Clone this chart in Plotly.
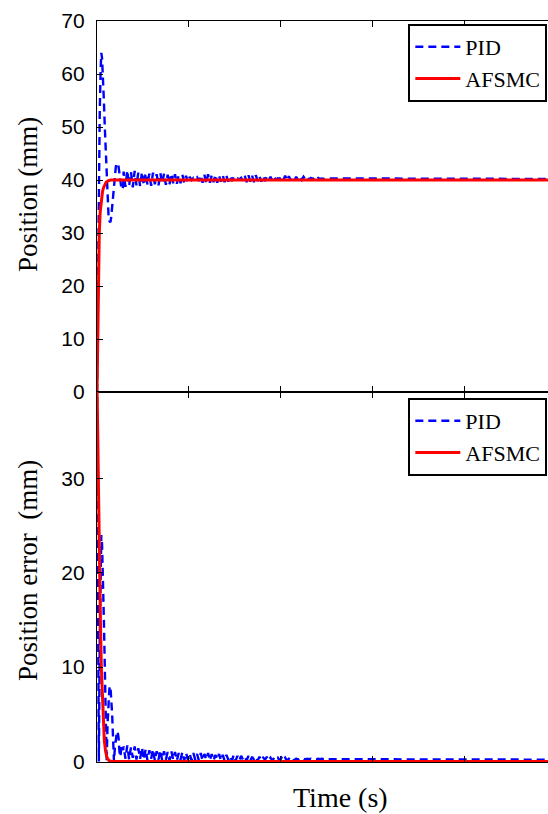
import numpy as np
import plotly.graph_objects as go
from plotly.subplots import make_subplots

# ---------------- data ----------------
# PID transient (time in s, position in mm)
pid_t_tr = [0, 0.005, 0.01, 0.015, 0.02, 0.03, 0.04, 0.047, 0.055, 0.065, 0.075, 0.085,
            0.095, 0.105, 0.115, 0.125, 0.135, 0.146, 0.155, 0.165, 0.175, 0.185, 0.195,
            0.205, 0.215, 0.224, 0.235, 0.245, 0.255, 0.265, 0.275, 0.285]
pid_pos_tr = [0, 12, 22, 31, 40, 53, 61, 64, 63, 60, 55, 50, 45, 40, 36, 33.5, 32.3, 32,
              33, 35, 37.5, 40, 41.5, 42.5, 43, 43.2, 42.5, 41, 39.5, 38.5, 38.2, 38.8]
pid_err_tr = [40, 28, 18, 9, 0, 13, 21, 24, 23, 20, 15, 10, 5, 0, 4, 6.5, 7.7, 8, 7, 5,
              2.5, 0, 1.5, 2.5, 3, 3.2, 2.5, 1, 0.5, 1.5, 1.8, 1.2]

# PID oscillating part, sampled every 0.02 s from 0.29 s
osc_t0, osc_dt = 0.29, 0.02
pid_pos_osc = [
    41.6, 38.7, 41.8, 38.9, 41.5, 38.6, 41.7, 39.0, 41.4, 38.8, 41.5,
    39.0, 41.3, 39.1, 41.2, 38.9, 41.4, 39.2, 41.1, 39.0, 41.3, 39.3, 41.2, 39.1, 41.0,
    39.2, 41.2, 39.4, 41.1, 39.3, 40.9, 39.4, 41.0, 39.5, 40.8, 39.6,
    40.6, 40.0, 40.4, 40.1, 40.5, 39.8, 40.9, 39.5, 41.0, 39.4, 41.1, 39.5, 40.9, 39.6,
    41.0, 39.5, 40.8, 39.7, 40.9, 39.6, 40.8, 39.7, 40.7, 39.8, 40.6,
    40.2, 40.3, 40.1, 40.4, 39.9, 40.8, 39.6, 40.9, 39.7, 40.8, 39.6, 40.9, 39.8, 40.7,
    39.7, 40.8, 39.8, 40.7, 39.9, 40.6, 39.9, 40.5, 40.1, 40.3, 40.2,
    40.7, 40.0, 40.8, 39.9, 40.7, 40.0, 40.6, 39.9, 40.6, 40.0, 40.5, 40.0, 40.6, 40.1,
    40.5, 40.1, 40.4, 40.2, 40.5, 40.1, 40.4, 40.2, 40.3, 40.2, 40.3, 40.3, 40.2, 40.3,
    40.2, 40.3]
pid_err_osc = [
    1.6, 0.3, 1.7, 0.2, 1.5, 0.4, 1.6, 0.2, 1.4, 0.3, 1.5,
    0.2, 1.3, 0.1, 1.2, 0.3, 1.3, 0.1, 1.1, 0.2, 1.2, 0.1, 1.1, 0.2, 1.0,
    0.1, 1.1, 0.2, 1.0, 0.1, 0.9, 0.2, 1.0, 0.1, 0.9, 0.2,
    0.8, 0.1, 0.9, 0.2, 0.8, 0.1, 0.9, 0.1, 0.8, 0.2, 0.9, 0.1, 0.8, 0.1,
    0.7, 0.2, 0.8, 0.1, 0.7, 0.1, 0.7, 0.2, 0.6, 0.1, 0.7,
    0.1, 0.6, 0.1, 0.6, 0.2, 0.5, 0.1, 0.6, 0.1, 0.5, 0.2, 0.5, 0.1, 0.5,
    0.1, 0.4, 0.2, 0.5, 0.1, 0.4, 0.1, 0.4, 0.2, 0.4, 0.1,
    0.4, 0.1, 0.4, 0.1, 0.3, 0.2, 0.4, 0.1, 0.3, 0.2, 0.3, 0.2, 0.3, 0.2,
    0.3, 0.25, 0.3, 0.25, 0.3, 0.25, 0.3, 0.25, 0.3, 0.25, 0.3, 0.25, 0.25, 0.25,
    0.25, 0.25]

# PID tail
pid_t_tail = [2.7, 2.9, 3.1, 3.3, 3.5, 3.7, 3.9, 4.1, 4.3, 4.5, 4.7, 4.95]
pid_pos_tail = [40.2, 40.3, 40.2, 40.3, 40.2, 40.25, 40.2, 40.25, 40.2, 40.2, 40.2, 40.2]
pid_err_tail = [0.2, 0.25, 0.2, 0.25, 0.2, 0.2, 0.25, 0.2, 0.2, 0.2, 0.2, 0.2]

# AFSMC
afsmc_t_pos = [0, 0.007, 0.014, 0.02, 0.025, 0.035, 0.047, 0.06, 0.07, 0.085, 0.1, 0.12, 0.15, 4.95]
afsmc_pos = [0, 10, 20, 26, 30, 34, 36.5, 37.8, 38.5, 39.2, 39.6, 39.85, 40, 40]
afsmc_t_err = [0, 0.01, 0.02, 0.028, 0.037, 0.047, 0.06, 0.07, 0.08, 0.095, 0.11, 0.13, 0.16, 4.95]
afsmc_err = [40, 32, 25, 20, 15, 10, 6, 4, 2.2, 1, 0.4, 0.1, 0, 0]

pos_ticks = [0, 10, 20, 30, 40, 50, 60, 70]
err_ticks = [0, 10, 20, 30]
time_ticks = [0, 1, 2, 3, 4]

# ---------------- assemble series ----------------
osc_t = list(np.round(osc_t0 + osc_dt * np.arange(len(pid_pos_osc)), 3))
pid_t = pid_t_tr + osc_t + pid_t_tail
pid_pos = pid_pos_tr + pid_pos_osc + pid_pos_tail
pid_err = pid_err_tr + pid_err_osc + pid_err_tail

BLUE = "#0000FF"
RED = "#FF0000"
SERIF = "Liberation Serif, Times New Roman, DejaVu Serif, serif"
SANS = "Liberation Sans, Arial, sans-serif"
DASH = "8px,5px"

fig = make_subplots(rows=2, cols=1, shared_xaxes=True, vertical_spacing=0)

fig.add_trace(go.Scatter(x=pid_t, y=pid_pos, mode="lines", name="PID",
                         line=dict(color=BLUE, width=2.4, dash=DASH), legend="legend"), row=1, col=1)
fig.add_trace(go.Scatter(x=afsmc_t_pos, y=afsmc_pos, mode="lines", name="AFSMC",
                         line=dict(color=RED, width=3), legend="legend"), row=1, col=1)
fig.add_trace(go.Scatter(x=pid_t, y=pid_err, mode="lines", name="PID",
                         line=dict(color=BLUE, width=2.4, dash=DASH), legend="legend2"), row=2, col=1)
fig.add_trace(go.Scatter(x=afsmc_t_err, y=afsmc_err, mode="lines", name="AFSMC",
                         line=dict(color=RED, width=3), legend="legend2"), row=2, col=1)

H_PLOT = 741.0
split = (762 - 392) / H_PLOT

axis_common = dict(showline=True, linecolor="black", linewidth=1.3, ticks="inside",
                   ticklen=6, tickcolor="black", tickwidth=1, showgrid=False, zeroline=False)

fig.update_xaxes(range=[0, 4.913], tickvals=time_ticks, showticklabels=False,
                 mirror="ticks", **axis_common)
fig.update_yaxes(**axis_common)
fig.update_yaxes(range=[0, 70], tickvals=pos_ticks, domain=[split, 1], row=1, col=1,
                 tickfont=dict(family=SANS, size=21, color="black"), ticklabelstandoff=7)
fig.update_yaxes(range=[-0.05, 39.15], tickvals=err_ticks, domain=[0, split], row=2, col=1,
                 tickfont=dict(family=SANS, size=21, color="black"), ticklabelstandoff=7)

legend_style = dict(font=dict(family=SERIF, size=22, color="black"), bgcolor="white",
                    bordercolor="black", borderwidth=2, xanchor="right", yanchor="top",
                    tracegroupgap=0, itemwidth=45)

fig.update_layout(
    width=548, height=814,
    margin=dict(l=97, r=0, t=21, b=52),
    plot_bgcolor="white", paper_bgcolor="white",
    showlegend=True,
    legend=dict(x=0.9985, y=1 - 3 / H_PLOT, **legend_style),
    legend2=dict(x=0.9985, y=split - 6 / H_PLOT, **legend_style),
    annotations=[
        dict(text="Position (mm)", xref="paper", yref="paper", x=(28 - 97) / 451,
             y=(762 - 195) / H_PLOT, textangle=-90, showarrow=False,
             xanchor="center", yanchor="middle",
             font=dict(family=SERIF, size=27, color="black")),
        dict(text="Position error  (mm)", xref="paper", yref="paper", x=(28 - 97) / 451,
             y=(762 - 571) / H_PLOT, textangle=-90, showarrow=False,
             xanchor="center", yanchor="middle",
             font=dict(family=SERIF, size=27, color="black")),
        dict(text="Time (s)", xref="paper", yref="paper", x=(340 - 97) / 451,
             y=(762 - 797) / H_PLOT, showarrow=False,
             xanchor="center", yanchor="middle",
             font=dict(family=SERIF, size=28, color="black")),
    ],
)

fig.write_html("out.html", config={"displayModeBar": False},
               post_script="document.body.style.margin='0';document.body.style.overflow='hidden';")
